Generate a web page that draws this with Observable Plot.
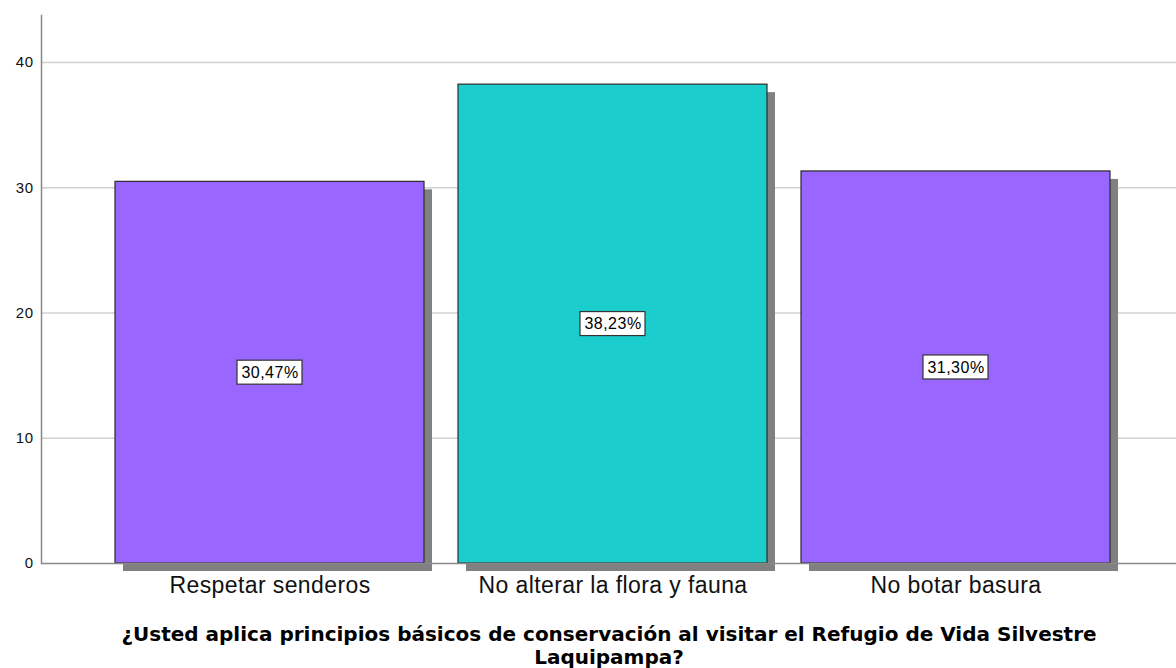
<!DOCTYPE html>
<html>
<head>
<meta charset="utf-8">
<script src="https://cdn.jsdelivr.net/npm/d3@7"></script>
<script src="https://cdn.jsdelivr.net/npm/@observablehq/plot@0.6"></script>
<style>
  html, body { margin: 0; padding: 0; background: #fff; }
  #chart svg { display: block; }
  #chart g[aria-label="x-axis tick label"] text { letter-spacing: 0.4px; }
  #chart g[aria-label="y-axis tick label"] text { letter-spacing: 0.5px; }
</style>
</head>
<body>
<div id="chart"></div>
<script>
// ---- data ----
const categories = ["Respetar senderos", "No alterar la flora y fauna", "No botar basura"];
const percents = [30.47, 38.23, 31.30];
const percentLabels = ["30,47%", "38,23%", "31,30%"];
const yTicks = [0, 10, 20, 30, 40];
const titleText = "¿Usted aplica principios básicos de conservación al visitar el Refugio de Vida Silvestre\nLaquipampa?";

// ---- styles ----
const barColors = ["#9966ff", "#1ccdcd", "#9966ff"];
const font = "Arial, 'Liberation Sans', sans-serif";

const rows = categories.map((c, i) => ({cat: c, v: percents[i], label: percentLabels[i], color: barColors[i]}));

const chart = Plot.plot({
  width: 1176,
  height: 668,
  marginLeft: 41,
  marginRight: 0,
  marginTop: 15,
  marginBottom: 105,
  style: {fontFamily: font, background: "#fff", color: "#000"},
  x: {domain: categories, paddingInner: 0.0991, paddingOuter: 0.204, align: 0.529, label: null},
  y: {domain: [0, 43.75], label: null},
  marks: [
    Plot.gridY(yTicks.filter(t => t > 0), {stroke: "#d0d0d0", strokeOpacity: 1, strokeWidth: 1.5}),
    // shadows
    Plot.barY(rows, {x: "cat", y: "v", fill: "#808080", dx: 8, dy: 8}),
    // bars
    Plot.barY(rows, {x: "cat", y: "v", fill: d => d.color, stroke: "#2a2a2a", strokeWidth: 1.2}),
    Plot.ruleY([0], {stroke: "#888", strokeWidth: 1.5}),
    Plot.frame({anchor: "left", stroke: "#888", strokeWidth: 1.5}),
    // label boxes
    Plot.barY(rows, {x: "cat", y1: d => d.v / 2, y2: d => d.v / 2,
      insetTop: -12, insetBottom: -12, insetLeft: 122, insetRight: 122,
      fill: "#fff", stroke: "#333", strokeWidth: 1.2}),
    Plot.text(rows, {x: "cat", y: d => d.v / 2, text: "label", fontSize: 16, fill: "#000", fontFamily: font}),
    Plot.axisY({ticks: yTicks, tickSize: 0, tickPadding: 8, fontSize: 15, label: null, fill: "#111"}),
    Plot.axisX({tickSize: 0, tickPadding: 13, fontSize: 23, label: null, fill: "#111"}),
    Plot.text([titleText], {frameAnchor: "bottom", lineAnchor: "top", dy: 62, fontSize: 20,
      fontWeight: "bold", lineHeight: 1.12, fill: "#000", fontFamily: "'DejaVu Sans', sans-serif"})
  ]
});
document.getElementById("chart").appendChild(chart);
const textGroups = d3.select(chart).selectAll('g[aria-label="text"]').nodes();
if (textGroups[0]) d3.select(textGroups[0]).selectAll("text").style("letter-spacing", "0.5px");
</script>
</body>
</html>
